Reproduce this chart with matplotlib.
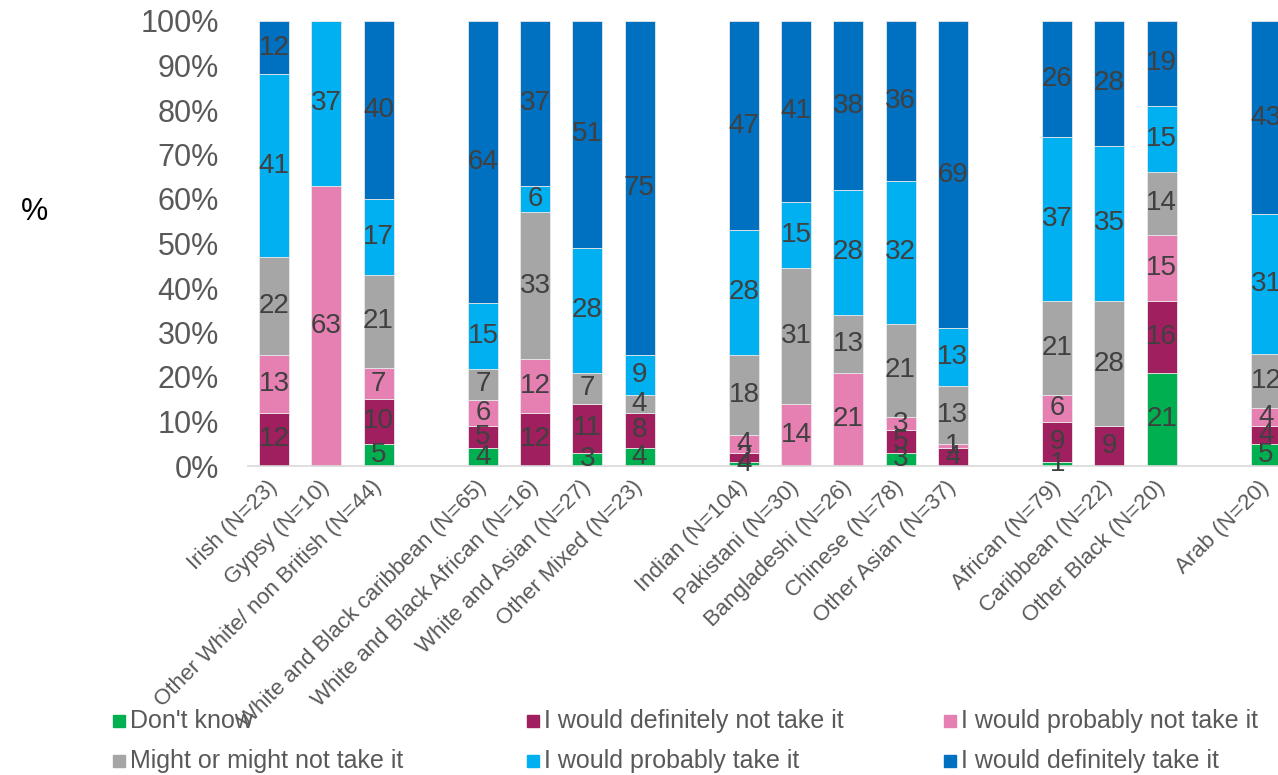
import numpy as np
import matplotlib
matplotlib.use("Agg")
import matplotlib.pyplot as plt
from matplotlib.patches import Rectangle

plt.rcParams['font.family'] = ['Liberation Sans', 'DejaVu Sans']

# categories in display order, split into groups (a blank slot sits between groups)
groups = [
    ["Irish (N=23)", "Gypsy (N=10)", "Other White/ non British (N=44)"],
    ["White and Black caribbean (N=65)", "White and Black African (N=16)",
     "White and Asian (N=27)", "Other Mixed (N=23)"],
    ["Indian (N=104)", "Pakistani (N=30)", "Bangladeshi (N=26)",
     "Chinese (N=78)", "Other Asian (N=37)"],
    ["African (N=79)", "Caribbean (N=22)", "Other Black (N=20)"],
    ["Arab (N=20)"],
]

series = ["Don't know", "I would definitely not take it", "I would probably not take it",
          "Might or might not take it", "I would probably take it", "I would definitely take it"]
colors = ["#00B050", "#A01F5E", "#E680B2", "#A6A6A6", "#00B0F0", "#0070C0"]

dont_know   = [0, 0, 5,  4, 0, 3, 4,  1, 0, 0, 3, 0,  1, 0, 21,  5]
def_not     = [12, 0, 10, 5, 12, 11, 8,  2, 0, 0, 5, 4,  9, 9, 16,  4]
prob_not    = [13, 63, 7, 6, 12, 0, 0,  4, 14, 21, 3, 1,  6, 0, 15,  4]
might       = [22, 0, 21, 7, 33, 7, 4,  18, 31, 13, 21, 13,  21, 28, 14,  12]
prob_take   = [41, 37, 17, 15, 6, 28, 9,  28, 15, 28, 32, 13,  37, 35, 15,  31]
def_take    = [12, 0, 40, 64, 37, 51, 75,  47, 41, 38, 36, 69,  26, 28, 19,  43]

# the Indian "Don't know" label reads 4 in the source although the sliver is ~1%
label_override = {(0, 7): "4"}

values = np.array([dont_know, def_not, prob_not, might, prob_take, def_take], dtype=float)
# 100% stacked: each bar scaled to its own total
shares = values / values.sum(axis=0) * 100

labels = []
pos = []
slot = 0
for g in groups:
    for name in g:
        labels.append(name)
        pos.append(slot)
        slot += 1
    slot += 1
pos = np.array(pos)

fig = plt.figure(figsize=(12.78, 7.75), dpi=100)
ax = fig.add_axes([248 / 1278, 1 - 466 / 775, 1 - 248 / 1278, (466 - 21) / 775])

bottom = np.zeros(len(labels))
for i, c in enumerate(colors):
    h = shares[i]
    ax.bar(pos, h, width=0.575, bottom=bottom, color=c,
           edgecolor="#E8E8E8", linewidth=0.6, label=series[i])
    for j, v in enumerate(values[i]):
        if v > 0:
            txt = label_override.get((i, j), f"{int(v)}")
            ax.text(pos[j], bottom[j] + h[j] / 2, txt, ha="center", va="center",
                    fontsize=20, color="#404040")
    bottom += h

ax.set_xlim(-0.5, 19.23)
ax.set_ylim(0, 100)
ax.set_yticks(np.arange(0, 101, 10))
ax.set_yticklabels([f"{t}%" for t in range(0, 101, 10)], fontsize=22, color="#595959")
ax.set_xticks(pos)
ax.set_xticklabels(labels, rotation=45, ha="right", va="center",
                   rotation_mode="anchor", fontsize=16, color="#595959")
ax.tick_params(axis="y", length=0, pad=21)
ax.tick_params(axis="x", length=0, pad=13)
for s in ["top", "right", "left"]:
    ax.spines[s].set_visible(False)
ax.spines["bottom"].set_color("#D9D9D9")
ax.spines["bottom"].set_linewidth(1.2)

fig.text(34 / 1278, 1 - 212 / 775, "%", fontsize=22, color="black",
         ha="center", va="center")

# legend laid out by hand, 3 columns x 2 rows
col_x = [113, 527, 944]
row_y = [721, 761]
for k, (name, c) in enumerate(zip(series, colors)):
    x = col_x[k % 3]
    y = row_y[k // 3]
    fig.patches.append(Rectangle((x / 1278, 1 - (y + 6) / 775), 12 / 1278, 12 / 775,
                                 transform=fig.transFigure, color=c))
    fig.text((x + 17) / 1278, 1 - y / 775, name, fontsize=18, color="#595959",
             ha="left", va="center")

fig.savefig("out.png", dpi=100)
